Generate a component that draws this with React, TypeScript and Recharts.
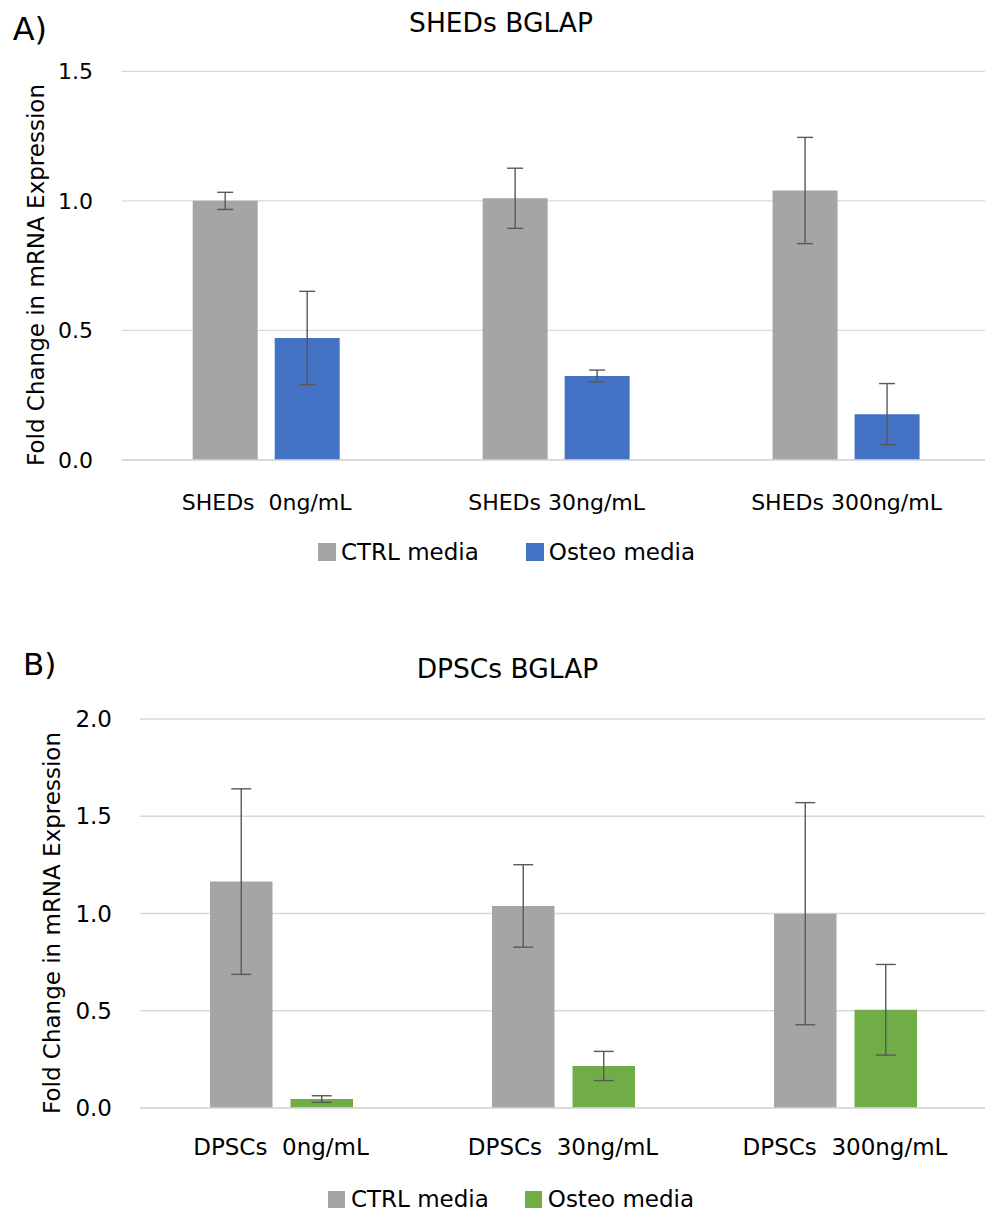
import React from "react";
import { BarChart, Bar, XAxis, YAxis, CartesianGrid, ErrorBar, Legend } from "recharts";

// ---------- Data ----------
const categoriesA = ["SHEDs  0ng/mL", "SHEDs 30ng/mL", "SHEDs 300ng/mL"];
const ctrlA = [1.0, 1.01, 1.04];
const ctrlErrA = [0.033, 0.116, 0.205];
const osteoA = [0.471, 0.324, 0.177];
const osteoErrA = [0.18, 0.023, 0.118];

const categoriesB = ["DPSCs  0ng/mL", "DPSCs  30ng/mL", "DPSCs  300ng/mL"];
const ctrlB = [1.164, 1.039, 0.999];
const ctrlErrB = [0.477, 0.212, 0.571];
const osteoB = [0.046, 0.216, 0.505];
const osteoErrB = [0.017, 0.075, 0.233];

const ticksA = [0, 0.5, 1.0, 1.5];
const ticksB = [0, 0.5, 1.0, 1.5, 2.0];

const seriesNames = ["CTRL media", "Osteo media"];

const buildRows = (cats: string[], c: number[], ce: number[], o: number[], oe: number[]) =>
  cats.map((name, i) => ({ name, ctrl: c[i], ctrlErr: ce[i], osteo: o[i], osteoErr: oe[i] }));

const dataA = buildRows(categoriesA, ctrlA, ctrlErrA, osteoA, osteoErrA);
const dataB = buildRows(categoriesB, ctrlB, ctrlErrB, osteoB, osteoErrB);

// ---------- Styles ----------
const FONT = "'DejaVu Sans', sans-serif";
const GRAY = "#A5A5A5";
const BLUE = "#4472C4";
const GREEN = "#70AD47";
const GRID = "#D9D9D9";
const ERR = "#595959";
const TEXT = "#000000";

const makeXTick = (base: number, fontSize: number) => (p: any) => (
  <text
    x={p.x}
    y={p.y + base}
    textAnchor="middle"
    fontSize={fontSize}
    fontFamily={FONT}
    fill={TEXT}
    xmlSpace="preserve"
    style={{ whiteSpace: "pre" }}
  >
    {p.payload.value}
  </text>
);

const makeLegend = (sq: number, gap: number, itemGap: number, fontSize: number) => (props: any) => {
  const payload = props.payload || [];
  return (
    <div style={{ display: "flex", justifyContent: "center", alignItems: "center", height: 28 }}>
      {payload.map((e: any, i: number) => (
        <div
          key={i}
          style={{
            display: "flex",
            alignItems: "center",
            marginLeft: i === 0 ? 0 : itemGap,
          }}
        >
          <div style={{ width: sq, height: sq, background: e.color, marginRight: gap }} />
          <span style={{ fontFamily: FONT, fontSize, color: TEXT, whiteSpace: "pre" }}>{e.value}</span>
        </div>
      ))}
    </div>
  );
};

export default function App() {
  return (
    <div
      style={{
        position: "absolute",
        left: 0,
        top: 0,
        width: 985,
        height: 1216,
        overflow: "hidden",
        background: "#ffffff",
        fontFamily: FONT,
      }}
    >
      {/* Panel A */}
      <div style={{ position: "absolute", left: 0, top: 0 }}>
        <BarChart
          width={1000}
          height={600}
          data={dataA}
          margin={{ top: 71.3, right: 8.5, bottom: 80, left: 21.7 }}
          barSize={65}
          barGap={17}
        >
          <CartesianGrid vertical={false} stroke={GRID} strokeWidth={1.3} />
          <XAxis
            dataKey="name"
            height={60}
            axisLine={{ stroke: GRID, strokeWidth: 1.3 }}
            tickLine={false}
            tickSize={0}
            tickMargin={0}
            interval={0}
            tick={makeXTick(50, 22)}
          />
          <YAxis
            width={100}
            domain={[0, 1.5]}
            ticks={ticksA}
            axisLine={false}
            tickLine={false}
            tickSize={0}
            tickMargin={28.7}
            tickFormatter={(v: number) => v.toFixed(1)}
            tick={{ fill: TEXT, fontSize: 22, fontFamily: FONT }}
          />
          <Legend
            verticalAlign="middle"
            align="center"
            wrapperStyle={{ top: 538, left: 6.5, width: 1000 }}
            content={makeLegend(18, 5, 47, 23)}
          />
          <Bar dataKey="ctrl" name={seriesNames[0]} fill={GRAY} isAnimationActive={false}>
            <ErrorBar dataKey="ctrlErr" width={8} stroke={ERR} strokeWidth={1.4} isAnimationActive={false} />
          </Bar>
          <Bar dataKey="osteo" name={seriesNames[1]} fill={BLUE} isAnimationActive={false}>
            <ErrorBar dataKey="osteoErr" width={8} stroke={ERR} strokeWidth={1.4} isAnimationActive={false} />
          </Bar>
        </BarChart>
      </div>

      {/* Panel B */}
      <div style={{ position: "absolute", left: 0, top: 600 }}>
        <BarChart
          width={1000}
          height={616}
          data={dataB}
          margin={{ top: 119, right: 14, bottom: 48, left: 40 }}
          barSize={62.5}
          barGap={18}
        >
          <CartesianGrid vertical={false} stroke={GRID} strokeWidth={1.3} />
          <XAxis
            dataKey="name"
            height={60}
            axisLine={{ stroke: GRID, strokeWidth: 1.3 }}
            tickLine={false}
            tickSize={0}
            tickMargin={0}
            interval={0}
            tick={makeXTick(47, 23)}
          />
          <YAxis
            width={100}
            domain={[0, 2]}
            ticks={ticksB}
            axisLine={false}
            tickLine={false}
            tickSize={0}
            tickMargin={28}
            tickFormatter={(v: number) => v.toFixed(1)}
            tick={{ fill: TEXT, fontSize: 23, fontFamily: FONT }}
          />
          <Legend
            verticalAlign="middle"
            align="center"
            wrapperStyle={{ top: 585, left: 11, width: 1000 }}
            content={makeLegend(17, 6, 36, 23)}
          />
          <Bar dataKey="ctrl" name={seriesNames[0]} fill={GRAY} isAnimationActive={false}>
            <ErrorBar dataKey="ctrlErr" width={10} stroke={ERR} strokeWidth={1.4} isAnimationActive={false} />
          </Bar>
          <Bar dataKey="osteo" name={seriesNames[1]} fill={GREEN} isAnimationActive={false}>
            <ErrorBar dataKey="osteoErr" width={10} stroke={ERR} strokeWidth={1.4} isAnimationActive={false} />
          </Bar>
        </BarChart>
      </div>

      {/* Titles and axis titles */}
      <svg
        width={985}
        height={1216}
        style={{ position: "absolute", left: 0, top: 0, pointerEvents: "none" }}
      >
        <text x={12.7} y={40} fontSize={32} fontFamily={FONT} fill={TEXT}>A)</text>
        <text x={501} y={32} fontSize={26.5} fontFamily={FONT} fill={TEXT} textAnchor="middle">SHEDs BGLAP</text>
        <text
          x={36}
          y={275}
          fontSize={23}
          fontFamily={FONT}
          fill={TEXT}
          textAnchor="middle"
          dominantBaseline="central"
          transform="rotate(-90, 36, 275)"
        >
          Fold Change in mRNA Expression
        </text>

        <text x={23} y={675} fontSize={31} fontFamily={FONT} fill={TEXT}>B)</text>
        <text x={507.5} y={678} fontSize={26.5} fontFamily={FONT} fill={TEXT} textAnchor="middle">DPSCs BGLAP</text>
        <text
          x={52}
          y={923}
          fontSize={23}
          fontFamily={FONT}
          fill={TEXT}
          textAnchor="middle"
          dominantBaseline="central"
          transform="rotate(-90, 52, 923)"
        >
          Fold Change in mRNA Expression
        </text>
      </svg>
    </div>
  );
}
